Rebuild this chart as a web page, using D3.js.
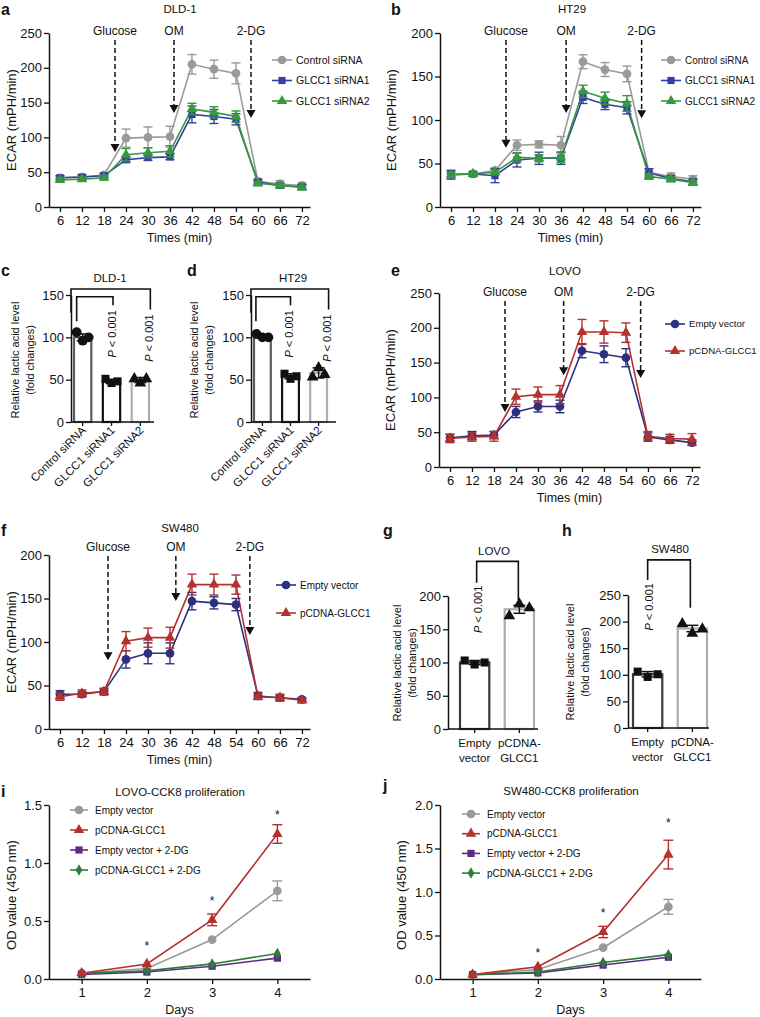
<!DOCTYPE html>
<html><head><meta charset="utf-8">
<script src="https://cdn.jsdelivr.net/npm/d3@7"></script>
<style>
body{margin:0;background:#fff}
text{font-family:"Liberation Sans",Arial,Helvetica,sans-serif;fill:#111}
</style>
</head><body><svg id="c" width="760" height="1017"></svg>
<script>
// ---------------- DATA ----------------
const ecarTimes = [6,12,18,24,30,36,42,48,54,60,66,72];
const ecarTicksA = [0,50,100,150,200,250];
const ecarTicksB = [0,50,100,150,200];

// a: DLD-1
const dldControl    = [42,43,46,99,100,101,205,198,192,37,33,31];
const dldControlErr = [3,3,3,13,15,15,14,13,15,4,5,4];
const dldSi1        = [42,43,45,68,71,72,133,130,126,36,31,29];
const dldSi1Err     = [3,3,3,4,4,4,12,10,8,3,3,3];
const dldSi2        = [39,40,42,75,78,80,141,136,130,34,31,28];
const dldSi2Err     = [3,3,3,9,7,8,8,8,8,3,3,3];
// b: HT29
const htControl    = [38,38,42,71,72,71,167,158,153,40,35,32];
const htControlErr = [4,2,3,6,4,10,8,8,9,4,4,4];
const htSi1        = [37,38,36,54,56,56,126,118,114,39,33,29];
const htSi1Err     = [5,2,8,8,7,7,7,6,7,5,3,3];
const htSi2        = [37,38,40,57,56,57,133,125,119,35,32,28];
const htSi2Err     = [3,2,3,5,4,6,7,7,9,3,3,3];
// e: LOVO
const lovoEmpty    = [42,45,46,79,87,87,167,162,157,43,39,35];
const lovoEmptyErr = [5,6,5,8,8,9,10,12,13,6,5,4];
const lovoGlcc     = [41,43,44,101,104,104,194,194,193,44,41,40];
const lovoGlccErr  = [6,6,7,11,11,13,18,16,14,7,6,8];
// f: SW480
const swEmpty    = [40,40,43,80,87,87,147,145,143,38,36,34];
const swEmptyErr = [4,3,3,10,12,12,10,7,7,4,3,2];
const swGlcc     = [37,41,43,101,105,105,166,166,166,37,36,33];
const swGlccErr  = [4,4,4,11,11,12,12,12,11,3,4,3];

// c, d: lactic acid (siRNA)
const sirnaCats = ["Control siRNA","GLCC1 siRNA1","GLCC1 siRNA2"];
const dldLacMean = [100,48,49.5];
const dldLacSd   = [4,2.5,3];
const dldLacPts  = [[106,96,100],[51,46,48],[51,46,51]];
const htLacMean  = [101,54,58];
const htLacSd    = [2,3,6];
const htLacPts   = [[104,100,100],[57,51,54],[53,64,56]];
const lacTicks150 = [0,50,100,150];

// g, h: lactic acid (overexpression)
const oeCats = ["Empty vector","pCDNA-GLCC1"];
const oeLabels = [["Empty","vector"],["pCDNA-","GLCC1"]];
const lovoLacMean = [100,180];
const lovoLacSd   = [3,6];
const lovoLacPts  = [[103,97,100],[170,188,182]];
const swLacMean   = [101,187];
const swLacSd     = [5,6];
const swLacPts    = [[106,96,101],[196,178,186]];
const lacTicks200 = [0,50,100,150,200];
const lacTicks250 = [0,50,100,150,200,250];

// i, j: CCK8 proliferation
const days = [1,2,3,4];
const cckNames = ["Empty vector","pCDNA-GLCC1","Empty vector + 2-DG","pCDNA-GLCC1 + 2-DG"];
const lovoCck = [
  [0.05,0.09,0.34,0.76],
  [0.05,0.13,0.51,1.25],
  [0.04,0.06,0.11,0.18],
  [0.05,0.07,0.13,0.22]];
const lovoCckErr = [
  [0.005,0.01,0.015,0.085],
  [0.005,0.01,0.05,0.08],
  [0.005,0.005,0.01,0.015],
  [0.005,0.005,0.01,0.01]];
const lovoStars = [0.29,0.68,1.42];
const swCck = [
  [0.05,0.11,0.36,0.83],
  [0.05,0.14,0.54,1.43],
  [0.05,0.07,0.16,0.25],
  [0.05,0.08,0.19,0.28]];
const swCckErr = [
  [0.005,0.01,0.02,0.085],
  [0.005,0.015,0.065,0.165],
  [0.005,0.005,0.01,0.015],
  [0.005,0.005,0.01,0.015]];
const swStars = [0.31,0.77,1.80];
const cckTicks15 = [0,0.5,1.0,1.5];
const cckTicks20 = [0,0.5,1.0,1.5,2.0];

// ---------------- STYLE ----------------
const C = {grey:"#9a9a9a", blue:"#3341a1", green:"#36993c", navy:"#2d307f", red:"#b4312e",
           purple:"#5b2c80", dgreen:"#2f7a39"};
const SYM = {circle:d3.symbolCircle, square:d3.symbolSquare, triangle:d3.symbolTriangle, diamond:d3.symbolDiamond};
const SZ = {circle:60, square:52, triangle:48, diamond:38};
const svg = d3.select("#c");
svg.append("rect").attr("width",760).attr("height",1017).attr("fill","#fff");

function styleAxis(sel, fs){
  sel.select(".domain").attr("stroke","#111").attr("stroke-width",1.5);
  sel.selectAll(".tick line").attr("stroke","#111").attr("stroke-width",1.3);
  sel.selectAll(".tick text").style("font-size",fs+"px").attr("fill","#111");
}
function letter(t,x,y){
  svg.append("text").attr("x",x).attr("y",y).text(t)
    .style("font-weight","bold").style("font-size","16px");
}
function txt(t,x,y,fs,anchor){
  return svg.append("text").attr("x",x).attr("y",y).text(t)
    .style("font-size",fs+"px").attr("text-anchor",anchor||"middle");
}
function vtxt(t,x,y,fs){
  return svg.append("text").attr("transform",`translate(${x},${y}) rotate(-90)`)
    .attr("dy","0.35em").attr("text-anchor","middle").style("font-size",fs+"px").text(t);
}
function marker(g,type,x,y,color,scale){
  g.append("path").attr("d",d3.symbol().type(SYM[type]).size(SZ[type]*(scale||1))())
    .attr("transform",`translate(${x},${y})`).attr("fill",color);
}
function errBar(g,x,ylo,yhi,color,w,sw){
  g.append("line").attr("x1",x).attr("x2",x).attr("y1",ylo).attr("y2",yhi).attr("stroke",color).attr("stroke-width",sw||1.4);
  [ylo,yhi].forEach(yy=>g.append("line").attr("x1",x-w).attr("x2",x+w).attr("y1",yy).attr("y2",yy).attr("stroke",color).attr("stroke-width",sw||1.4));
}

// ---------------- ECAR PANELS ----------------
function ecarPanel(cfg){
  const g = svg.append("g");
  const x = d3.scaleLinear().domain([3,74.2]).range([cfg.ax,cfg.ax+261]);
  const y = d3.scaleLinear().domain([0,cfg.ticks[cfg.ticks.length-1]]).range([cfg.y0,cfg.y1]);
  const xa = g.append("g").attr("transform",`translate(0,${cfg.y0})`)
    .call(d3.axisBottom(x).tickValues(ecarTimes).tickSize(5).tickSizeOuter(0).tickPadding(4));
  styleAxis(xa,13);
  const ya = g.append("g").attr("transform",`translate(${cfg.ax},0)`)
    .call(d3.axisLeft(y).tickValues(cfg.ticks).tickSize(5).tickSizeOuter(0).tickPadding(2));
  styleAxis(ya,13);
  txt("Times (min)",(cfg.ax+cfg.ax+261)/2,cfg.y0+35,12.5);
  vtxt("ECAR (mPH/min)",cfg.ylx,(cfg.y0+cfg.y1)/2,13);
  txt(cfg.title,cfg.tx,cfg.ty,11.5);
  letter(cfg.letter,cfg.lx,cfg.ly);
  const line = d3.line().x((d,i)=>x(ecarTimes[i])).y(d=>y(d));
  cfg.series.forEach(s=>{
    g.append("path").datum(s.v).attr("d",line).attr("fill","none").attr("stroke",s.c).attr("stroke-width",1.6);
  });
  cfg.series.forEach(s=>{
    s.v.forEach((v,i)=>errBar(g,x(ecarTimes[i]),y(v-s.e[i]),y(v+s.e[i]),s.c,4.5,1.4));
    s.v.forEach((v,i)=>marker(g,s.m,x(ecarTimes[i]),y(v),s.c));
  });
  // arrows
  cfg.arrows.forEach(a=>{
    const ax = x(a.t), lb = cfg.y1 + cfg.lblOff;
    txt(a.label,ax,lb,12);
    const tip = y(a.tip);
    g.append("line").attr("x1",ax).attr("x2",ax).attr("y1",lb+5).attr("y2",tip-7)
      .attr("stroke","#111").attr("stroke-width",1.5).attr("stroke-dasharray","5,3");
    g.append("path").attr("d",`M${ax-4.5},${tip-8}L${ax+4.5},${tip-8}L${ax},${tip}Z`).attr("fill","#111");
  });
  // legend
  cfg.series.forEach((s,i)=>{
    const ly = cfg.leg.y + i*cfg.leg.dy;
    g.append("line").attr("x1",cfg.leg.x).attr("x2",cfg.leg.x+20).attr("y1",ly).attr("y2",ly).attr("stroke",s.c).attr("stroke-width",1.6);
    marker(g,s.m,cfg.leg.x+10,ly,s.c);
    txt(s.name,cfg.leg.x+24,ly,cfg.leg.fs,"start").attr("dy","0.35em");
  });
}

ecarPanel({ax:49,y0:207,y1:33,ticks:ecarTicksA,ylx:11,title:"DLD-1",tx:180,ty:13,letter:"a",lx:1,ly:15,lblOff:2,
  series:[{name:"Control siRNA",v:dldControl,e:dldControlErr,c:C.grey,m:"circle"},
          {name:"GLCC1 siRNA1",v:dldSi1,e:dldSi1Err,c:C.blue,m:"square"},
          {name:"GLCC1 siRNA2",v:dldSi2,e:dldSi2Err,c:C.green,m:"triangle"}],
  arrows:[{label:"Glucose",t:21,tip:79},{label:"OM",t:37.1,tip:135},{label:"2-DG",t:58.1,tip:128}],
  leg:{x:272,y:60,dy:20.5,fs:10.5}});
ecarPanel({ax:440,y0:207,y1:33,ticks:ecarTicksB,ylx:391,title:"HT29",tx:572,ty:13,letter:"b",lx:391,ly:15,lblOff:2,
  series:[{name:"Control siRNA",v:htControl,e:htControlErr,c:C.grey,m:"circle"},
          {name:"GLCC1 siRNA1",v:htSi1,e:htSi1Err,c:C.blue,m:"square"},
          {name:"GLCC1 siRNA2",v:htSi2,e:htSi2Err,c:C.green,m:"triangle"}],
  arrows:[{label:"Glucose",t:21,tip:68},{label:"OM",t:37.4,tip:108},{label:"2-DG",t:58,tip:102}],
  leg:{x:661,y:60,dy:20.5,fs:10}});
ecarPanel({ax:439,y0:467,y1:293,ticks:ecarTicksA,ylx:390,title:"LOVO",tx:565,ty:275,letter:"e",lx:391,ly:276,lblOff:3,
  series:[{name:"Empty vector",v:lovoEmpty,e:lovoEmptyErr,c:C.navy,m:"circle"},
          {name:"pCDNA-GLCC1",v:lovoGlcc,e:lovoGlccErr,c:C.red,m:"triangle"}],
  arrows:[{label:"Glucose",t:21,tip:79},{label:"OM",t:37,tip:132},{label:"2-DG",t:58,tip:128}],
  leg:{x:665,y:324,dy:27,fs:9.6}});
ecarPanel({ax:49,y0:729,y1:555,ticks:ecarTicksB,ylx:11,title:"SW480",tx:180,ty:532,letter:"f",lx:1,ly:536,lblOff:-4,
  series:[{name:"Empty vector",v:swEmpty,e:swEmptyErr,c:C.navy,m:"circle"},
          {name:"pCDNA-GLCC1",v:swGlcc,e:swGlccErr,c:C.red,m:"triangle"}],
  arrows:[{label:"Glucose",t:19.1,tip:79},{label:"OM",t:37.6,tip:147},{label:"2-DG",t:57.8,tip:108}],
  leg:{x:276,y:585,dy:28,fs:10}});

// ---------------- BAR PANELS ----------------
function pLabel(x,yTop){
  const t = svg.append("text").attr("transform",`translate(${x},${yTop}) rotate(-90)`)
    .attr("text-anchor","end").attr("dy","0.35em").style("font-size","11px");
  t.append("tspan").style("font-style","italic").text("P");
  t.append("tspan").text(" < 0.001");
}
function barPanel(cfg){
  const g = svg.append("g");
  const x = d3.scaleBand().domain(cfg.cats).range(cfg.band).paddingInner(cfg.pi).paddingOuter(0);
  const y = d3.scaleLinear().domain([0,cfg.ticks[cfg.ticks.length-1]]).range([cfg.y0,cfg.y1]);
  // bars
  cfg.cats.forEach((c,i)=>{
    g.append("rect").attr("x",x(c)+1).attr("width",x.bandwidth()-2)
      .attr("y",y(cfg.mean[i])).attr("height",cfg.y0-y(cfg.mean[i]))
      .attr("fill","#fff").attr("stroke",cfg.colors[i]).attr("stroke-width",2.2);
  });
  cfg.cats.forEach((c,i)=>{
    const cx = x(c)+x.bandwidth()/2, bw = x.bandwidth();
    cfg.pts[i].forEach((p,j)=>marker(g,cfg.syms[i],cx+(j-1)*cfg.jit,y(p),"#111",1.25));
    errBar(g,cx,y(cfg.mean[i]-cfg.sd[i]),y(cfg.mean[i]+cfg.sd[i]),"#111",6,1.5);
  });
  // axes
  const xa = g.append("g").attr("transform",`translate(0,${cfg.y0})`)
    .call(d3.axisBottom(x).tickSize(4).tickSizeOuter(0));
  xa.select(".domain").remove();
  xa.selectAll(".tick text").remove();
  xa.selectAll(".tick line").attr("stroke","#111").attr("stroke-width",1.3);
  g.append("line").attr("x1",cfg.ax).attr("x2",cfg.axEnd).attr("y1",cfg.y0).attr("y2",cfg.y0).attr("stroke","#111").attr("stroke-width",1.5);
  const ya = g.append("g").attr("transform",`translate(${cfg.ax},0)`)
    .call(d3.axisLeft(y).tickValues(cfg.ticks).tickSize(5).tickSizeOuter(0).tickPadding(2));
  styleAxis(ya,13);
  // x labels
  cfg.cats.forEach((c,i)=>{
    const cx = x(c)+x.bandwidth()/2;
    if(cfg.rot){
      svg.append("text").attr("transform",`translate(${cx+4},${cfg.y0+9}) rotate(-45)`)
        .attr("text-anchor","end").style("font-size","11.5px").text(c);
    } else {
      cfg.labels[i].forEach((l,k)=>txt(l,cx,cfg.y0+18+k*14.5,11.5));
    }
  });
  // y label
  vtxt("Relative lactic acid level",cfg.ylx,cfg.ylc,11);
  vtxt("(fold changes)",cfg.ylx+15,cfg.ylc,11);
  txt(cfg.title,cfg.tx,cfg.ty,11.5);
  letter(cfg.letter,cfg.lx,cfg.ly);
  // brackets
  cfg.brackets.forEach(b=>{
    const xl = b.xl!==undefined ? b.xl : x(cfg.cats[b.from])+x.bandwidth()/2+b.dl;
    const xr = x(cfg.cats[b.to])+x.bandwidth()/2+b.dr;
    g.append("path").attr("d",`M${xl},${y(b.left)}V${y(b.top)}H${xr}V${y(b.right)}`)
      .attr("fill","none").attr("stroke","#111").attr("stroke-width",1.6);
    if(b.pSide==="right") pLabel(xr-1,y(b.right)+5);
    else pLabel(xl+1,y(b.left)+3);
  });
}

barPanel({cats:sirnaCats,band:[73,150],pi:0.33,y0:422,y1:295,ticks:lacTicks150,ax:71,axEnd:154,jit:6,
  mean:dldLacMean,sd:dldLacSd,pts:dldLacPts,colors:["#5c5c5c","#111","#adadad"],syms:["circle","square","triangle"],
  rot:true,ylx:15,ylc:360,title:"DLD-1",tx:110,ty:282,letter:"c",lx:1,ly:276,
  brackets:[{from:0,to:2,xl:71,dr:10,top:157,left:129,right:133,pSide:"right"},
            {from:0,to:1,dl:-6,dr:1.5,top:148,left:119,right:138,pSide:"right"}]});
barPanel({cats:sirnaCats,band:[253,328],pi:0.33,y0:422,y1:295,ticks:lacTicks150,ax:251,axEnd:336,jit:6,
  mean:htLacMean,sd:htLacSd,pts:htLacPts,colors:["#5c5c5c","#111","#adadad"],syms:["circle","square","triangle"],
  rot:true,ylx:194,ylc:360,title:"HT29",tx:293,ty:282,letter:"d",lx:187,ly:276,
  brackets:[{from:0,to:2,xl:251,dr:10,top:157,left:129,right:133,pSide:"right"},
            {from:0,to:1,dl:-6.5,dr:0,top:148,left:119,right:138,pSide:"right"}]});
barPanel({cats:oeCats,labels:oeLabels,band:[459,535],pi:0.3,y0:729,y1:596,ticks:lacTicks200,ax:448,axEnd:538,jit:10,
  mean:lovoLacMean,sd:lovoLacSd,pts:lovoLacPts,colors:["#3a3a3a","#adadad"],syms:["square","triangle"],
  rot:false,ylx:397,ylc:663,title:"LOVO",tx:494,ty:555,letter:"g",lx:383,ly:536,
  brackets:[{from:0,to:1,dl:2,dr:-1,top:252,left:220,right:194,pSide:"left"}]});
barPanel({cats:oeCats,labels:oeLabels,band:[632,708],pi:0.3,y0:728,y1:595,ticks:lacTicks250,ax:628,axEnd:709,jit:10,
  mean:swLacMean,sd:swLacSd,pts:swLacPts,colors:["#3a3a3a","#adadad"],syms:["square","triangle"],
  rot:false,ylx:570,ylc:662,title:"SW480",tx:670,ty:553,letter:"h",lx:562,ly:536,
  brackets:[{from:0,to:1,dl:0,dr:-2,top:316,left:278,right:226,pSide:"left"}]});

// ---------------- CCK8 PANELS ----------------
function cckPanel(cfg){
  const g = svg.append("g");
  const x = d3.scaleLinear().domain([0.5,4.5]).range([cfg.ax,cfg.axEnd]);
  const y = d3.scaleLinear().domain([0,cfg.ticks[cfg.ticks.length-1]]).range([cfg.y0,cfg.y1]);
  const xa = g.append("g").attr("transform",`translate(0,${cfg.y0})`)
    .call(d3.axisBottom(x).tickValues(days).tickFormat(d3.format("d")).tickSize(5).tickSizeOuter(0).tickPadding(4));
  styleAxis(xa,13);
  const ya = g.append("g").attr("transform",`translate(${cfg.ax},0)`)
    .call(d3.axisLeft(y).tickValues(cfg.ticks).tickFormat(d3.format(".1f")).tickSize(5).tickSizeOuter(0).tickPadding(2));
  styleAxis(ya,13);
  txt("Days",(cfg.ax+cfg.axEnd)/2,cfg.y0+35,12.5);
  vtxt("OD value (450 nm)",cfg.ylx,(cfg.y0+cfg.y1)/2+3,13);
  txt(cfg.title,cfg.tx,cfg.ty,11.5);
  letter(cfg.letter,cfg.lx,cfg.ly);
  const cols = [C.grey,C.red,C.purple,C.dgreen], syms = ["circle","triangle","square","diamond"];
  const line = d3.line().x((d,i)=>x(days[i])).y(d=>y(d));
  const order = [0,2,3,1];
  order.forEach(k=>g.append("path").datum(cfg.data[k]).attr("d",line).attr("fill","none").attr("stroke",cols[k]).attr("stroke-width",1.6));
  order.forEach(k=>{
    cfg.data[k].forEach((v,i)=>{
      if(cfg.err[k][i]>0.02) errBar(g,x(days[i]),y(v-cfg.err[k][i]),y(v+cfg.err[k][i]),cols[k],5,1.4);
      marker(g,syms[k],x(days[i]),y(v),cols[k]);
    });
  });
  cfg.stars.forEach((s,i)=>txt("*",x(days[i+1]),y(s)+5,12));
  cckNames.forEach((n,i)=>{
    const ly = cfg.leg.y + i*cfg.leg.dy;
    g.append("line").attr("x1",cfg.leg.x).attr("x2",cfg.leg.x+18).attr("y1",ly).attr("y2",ly).attr("stroke",cols[i]).attr("stroke-width",1.6);
    marker(g,syms[i],cfg.leg.x+9,ly,cols[i]);
    txt(n,cfg.leg.x+25,ly,10,"start").attr("dy","0.35em");
  });
}
cckPanel({ax:49,axEnd:310,y0:979,y1:805,ticks:cckTicks15,data:lovoCck,err:lovoCckErr,stars:lovoStars,
  ylx:11,title:"LOVO-CCK8 proliferation",tx:180,ty:796,letter:"i",lx:1,ly:797,leg:{x:70,y:810,dy:20}});
cckPanel({ax:440,axEnd:701,y0:979,y1:805,ticks:cckTicks20,data:swCck,err:swCckErr,stars:swStars,
  ylx:401,title:"SW480-CCK8 proliferation",tx:571,ty:795,letter:"j",lx:383,ly:791,leg:{x:462,y:814,dy:19.7}});
</script>
</body></html>
